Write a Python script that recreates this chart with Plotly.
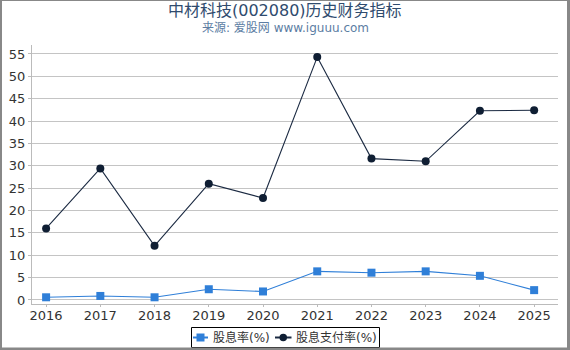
import plotly.graph_objects as go

years = [2016, 2017, 2018, 2019, 2020, 2021, 2022, 2023, 2024, 2025]
dividend_yield = [0.6, 0.9, 0.6, 2.4, 1.9, 6.4, 6.1, 6.4, 5.4, 2.2]
payout_ratio = [16.0, 29.4, 12.1, 26.0, 22.8, 54.3, 31.6, 31.0, 42.3, 42.4]
y_ticks = [0, 5, 10, 15, 20, 25, 30, 35, 40, 45, 50, 55]
series_names = ["股息率(%)", "股息支付率(%)"]
series_colors = ["#2f7fd8", "#1b2a42"]
marker_colors = ["#2f7fd8", "#0f1e33"]

W, H = 570, 350
L, R, T, B = 32, 12, 45, 46
pw, ph = W - L - R, H - T - B

def px(x):
    return (x - L) / pw

def py(y):
    return (H - B - y) / ph

font_fam = "DejaVu Sans, Noto Sans CJK SC, sans-serif"

fig = go.Figure()
fig.add_trace(go.Scatter(
    x=years, y=dividend_yield, name=series_names[0], mode="lines+markers",
    line=dict(color=series_colors[0], width=1.1),
    marker=dict(symbol="square", size=8, color=marker_colors[0]),
))
fig.add_trace(go.Scatter(
    x=years, y=payout_ratio, name=series_names[1], mode="lines+markers",
    line=dict(color=series_colors[1], width=1.1),
    marker=dict(symbol="circle", size=8, color=marker_colors[1]),
))

# custom legend (pixel layout)
ly = 337.5
legend_shapes = [
    dict(type="rect", xref="paper", yref="paper", x0=px(191.5), x1=px(379.5), y0=py(347.5), y1=py(327.5),
         fillcolor="white", line=dict(color="#000000", width=1), layer="above"),
    dict(type="line", xref="paper", yref="paper", x0=px(193), x1=px(208), y0=py(ly), y1=py(ly),
         line=dict(color=series_colors[0], width=2), layer="above"),
    dict(type="rect", xref="paper", yref="paper", x0=px(196.5), x1=px(204.5), y0=py(ly + 4), y1=py(ly - 4),
         fillcolor=marker_colors[0], line=dict(width=0), layer="above"),
    dict(type="line", xref="paper", yref="paper", x0=px(275), x1=px(291.5), y0=py(ly), y1=py(ly),
         line=dict(color=series_colors[1], width=2), layer="above"),
    dict(type="circle", xref="paper", yref="paper", x0=px(279.5), x1=px(287), y0=py(ly + 3.75), y1=py(ly - 3.75),
         fillcolor=marker_colors[1], line=dict(width=0), layer="above"),
]
legend_texts = [
    dict(text=series_names[0], x=px(211), y=py(ly), xref="paper", yref="paper",
         xanchor="left", yanchor="middle", showarrow=False,
         font=dict(size=12, color="#333333", family=font_fam)),
    dict(text=series_names[1], x=px(294), y=py(ly), xref="paper", yref="paper",
         xanchor="left", yanchor="middle", showarrow=False,
         font=dict(size=12, color="#333333", family=font_fam)),
]

border_shapes = [
    dict(type="rect", xref="paper", yref="paper", x0=px(0), x1=px(2), y0=py(350), y1=py(0),
         fillcolor="#888888", line=dict(width=0), layer="above"),
    dict(type="rect", xref="paper", yref="paper", x0=px(0), x1=px(570), y0=py(1), y1=py(0),
         fillcolor="#888888", line=dict(width=0), layer="above"),
    dict(type="rect", xref="paper", yref="paper", x0=px(567), x1=px(570), y0=py(350), y1=py(0),
         fillcolor="#888888", line=dict(width=0), layer="above"),
    dict(type="rect", xref="paper", yref="paper", x0=px(0), x1=px(570), y0=py(350), y1=py(347.5),
         fillcolor="#888888", line=dict(width=0), layer="above"),
]

fig.update_layout(
    width=W, height=H,
    margin=dict(l=L, r=R, t=T, b=B, autoexpand=False),
    paper_bgcolor="white", plot_bgcolor="white",
    font=dict(family=font_fam, size=13, color="#333333"),
    showlegend=False,
    xaxis=dict(
        range=[2015.74, 2025.44], tickmode="array", tickvals=years,
        ticktext=[str(y) for y in years],
        showgrid=False, showline=True, linecolor="#bbbbbb", linewidth=1,
        ticks="outside", ticklen=2, tickcolor="#bbbbbb", ticklabelstandoff=-3,
        tickfont=dict(size=13, color="#333333"), zeroline=False,
    ),
    yaxis=dict(
        range=[-0.9, 57.0], tickmode="array", tickvals=y_ticks,
        showgrid=True, gridcolor="#c4c4c4", gridwidth=1,
        showline=True, linecolor="#bbbbbb", linewidth=1,
        ticks="outside", ticklen=3, tickcolor="#bbbbbb",
        tickfont=dict(size=13, color="#333333"), zeroline=False,
    ),
    annotations=[
        dict(text="中材科技(002080)历史财务指标", x=px(285), y=py(10.5), xref="paper", yref="paper",
             xanchor="center", yanchor="middle", showarrow=False,
             font=dict(size=16, color="#2f4b6e", family=font_fam)),
        dict(text="来源: 爱股网 www.iguuu.com", x=px(285), y=py(28), xref="paper", yref="paper",
             xanchor="center", yanchor="middle", showarrow=False,
             font=dict(size=12, color="#5c7da3", family=font_fam)),
    ] + legend_texts,
    shapes=legend_shapes + border_shapes,
)

fig.write_html("out.html")
